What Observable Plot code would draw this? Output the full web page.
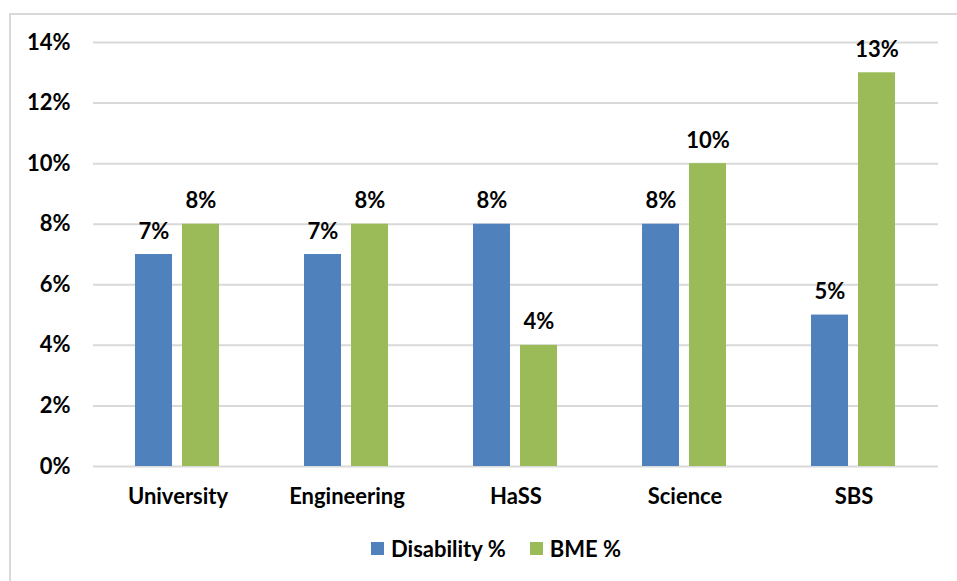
<!DOCTYPE html>
<html>
<head>
<meta charset="utf-8">
<script src="https://cdn.jsdelivr.net/npm/d3@7"></script>
<script src="https://cdn.jsdelivr.net/npm/@observablehq/plot@0.6"></script>
<style>
  html, body { margin: 0; padding: 0; background: #fff; }
  body { width: 957px; height: 581px; position: relative; overflow: hidden; font-family: Lato, "Liberation Sans", sans-serif; }
  #frame { position: absolute; left: 9px; top: 13px; width: 1000px; height: 700px; border: 2px solid #d9d9d9; box-sizing: border-box; }
  #chart { position: absolute; left: 0; top: 0; }
  #legend { position: absolute; left: 371px; top: 535px; display: flex; align-items: center; font-weight: bold; font-size: 22px; color: #000; }
  .item { display: flex; align-items: center; margin-right: 24px; }
  .sw { width: 13px; height: 13px; margin-right: 7px; }
</style>
</head>
<body>
<div id="frame"></div>
<div id="chart"></div>
<div id="legend"></div>
<script>
const categories = ["University", "Engineering", "HaSS", "Science", "SBS"];
const seriesNames = ["Disability %", "BME %"];
const disability = [7, 7, 8, 8, 5];
const bme = [8, 8, 4, 10, 13];
const colors = ["#4f81bd", "#9bbb59"];
const yTicks = [0, 2, 4, 6, 8, 10, 12, 14];

const data = [];
categories.forEach((c, i) => {
  data.push({cat: c, series: seriesNames[0], value: disability[i]});
  data.push({cat: c, series: seriesNames[1], value: bme[i]});
});

const chart = Plot.plot({
  width: 957,
  height: 520,
  marginTop: 42,
  marginBottom: 54,
  marginLeft: 91,
  marginRight: 17,
  style: {fontFamily: "Lato, 'Liberation Sans', sans-serif", color: "#000", background: "transparent"},
  fx: {domain: categories, padding: 0, label: null},
  x: {domain: seriesNames, paddingInner: 0.2083, paddingOuter: 0.875, axis: null},
  y: {domain: [0, 14], label: null},
  color: {domain: seriesNames, range: colors},
  marks: [
    Plot.ruleY(yTicks, {stroke: "#d9d9d9", strokeWidth: 2}),
    Plot.barY(data, {fx: "cat", x: "series", y: "value", fill: "series"}),
    Plot.text(data, {fx: "cat", x: "series", y: "value", text: d => d.value + "%", dy: -16, lineAnchor: "bottom", fontSize: 22, fontWeight: "bold", fill: "#000"}),
    Plot.axisY({ticks: yTicks, tickSize: 0, tickPadding: 23, fontSize: 22, fontWeight: "bold", tickFormat: d => d + "%", label: null}),
    Plot.axisFx({anchor: "bottom", tickSize: 0, tickPadding: 22, fontSize: 22, fontWeight: "bold", label: null})
  ]
});
document.getElementById("chart").appendChild(chart);

const legend = document.getElementById("legend");
seriesNames.forEach((s, i) => {
  const item = document.createElement("div");
  item.className = "item";
  const sw = document.createElement("div");
  sw.className = "sw";
  sw.style.background = colors[i];
  const t = document.createElement("span");
  t.textContent = s;
  item.appendChild(sw);
  item.appendChild(t);
  legend.appendChild(item);
});
</script>
</body>
</html>
